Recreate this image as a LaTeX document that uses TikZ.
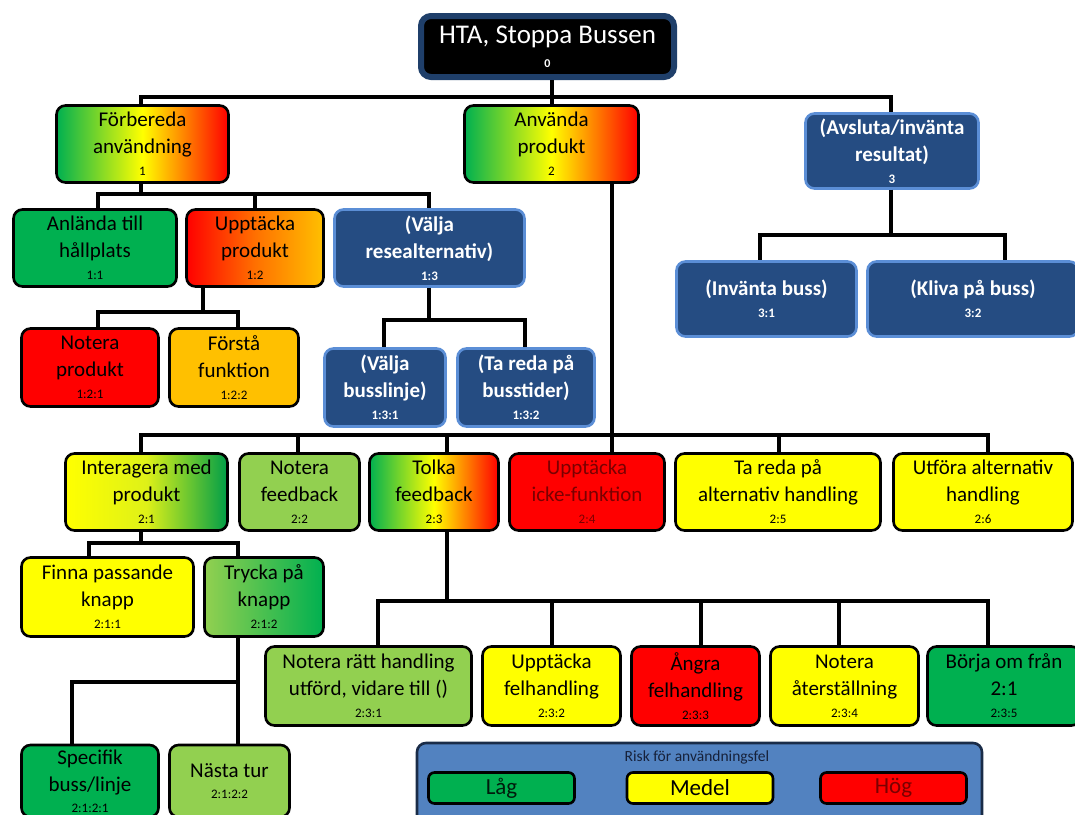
\documentclass[tikz,border=0pt]{standalone}
\usepackage{fontspec}
\setmainfont{Carlito}
\definecolor{gr}{HTML}{00B050}
\definecolor{lgr}{HTML}{92D050}
\definecolor{yel}{HTML}{FFFF00}
\definecolor{rd}{HTML}{FF0000}
\definecolor{org}{HTML}{FFC000}
\definecolor{orgred}{HTML}{FF7000}
\definecolor{bluefill}{HTML}{254C82}
\definecolor{bluebd}{HTML}{5B8ED6}
\definecolor{rootbd}{HTML}{1F3F6A}
\definecolor{legfill}{HTML}{5282C0}
\definecolor{legbd}{HTML}{1A2C48}
\definecolor{dred}{HTML}{7A0000}
\definecolor{navytxt}{HTML}{16213A}
\newcommand\mainfs{\fontsize{21}{27}\selectfont}
\newcommand\numfs{\fontsize{13}{15}\selectfont}
\newcommand\tconn[5]{\draw[conn] (#1.south -| #2,0) -- (#2,#3) -| (#4.north -| #5,0);}
\tikzset{
  conn/.style={line width=4pt, draw=black},
  box/.style={draw=black, line width=2.6pt, rounded corners=9pt, inner sep=0pt,
    align=center, font=\mainfs, text=black},
  bluebox/.style={box, draw=bluebd, fill=bluefill, text=white, font=\mainfs\bfseries},
  gyr/.style={left color=gr, right color=rd, middle color=yel},
  legitem/.style={draw=black, line width=2.6pt, rounded corners=6pt, inner sep=0pt,
    minimum height=31pt, minimum width=146pt, font=\fontsize{23}{26}\selectfont}
}
\begin{document}
\begin{tikzpicture}[x=1pt,y=-1pt]
\useasboundingbox (0,0) rectangle (1075,814);
% root
\node[draw=rootbd, line width=6pt, fill=black, rounded corners=10pt, inner sep=0pt,
  minimum width=253pt, minimum height=61pt, align=center, text=white,
  font=\fontsize{27}{29}\selectfont] (n0) at (547.5,46.5)
  {HTA, Stoppa Bussen\\[-5pt]{\bfseries\fontsize{12}{13}\selectfont 0}};
% level 1
\node[box, gyr, minimum width=172pt, minimum height=77pt] (n1) at (142.5,144)
  {Förbereda\\användning\\[-5pt]{\numfs 1}};
\node[box, gyr, minimum width=174pt, minimum height=77pt] (n2) at (551.5,144)
  {Använda\\produkt\\[-5pt]{\numfs 2}};
\node[bluebox, minimum width=173pt, minimum height=75pt] (n3) at (892,151)
  {(Avsluta/invänta\\resultat)\\[-5pt]{\numfs 3}};
% level 1.x
\node[box, fill=gr, minimum width=163pt, minimum height=77pt] (n11) at (95,248)
  {Anlända till\\hållplats\\[-5pt]{\numfs 1:1}};
\node[box, left color=rd, right color=org, middle color=orgred, minimum width=137pt, minimum height=77pt] (n12) at (255,248)
  {Upptäcka\\produkt\\[-5pt]{\numfs 1:2}};
\node[bluebox, minimum width=190pt, minimum height=77pt] (n13) at (429.5,248)
  {(Välja\\resealternativ)\\[-5pt]{\numfs 1:3}};
\node[box, fill=rd, minimum width=137pt, minimum height=78pt] (n121) at (90,367.5)
  {Notera\\produkt\\[-5pt]{\numfs 1:2:1}};
\node[box, fill=org, minimum width=129pt, minimum height=78pt] (n122) at (234,367.5)
  {Förstå\\funktion\\[-5pt]{\numfs 1:2:2}};
\node[bluebox, minimum width=121pt, minimum height=78pt] (n131) at (385,387.5)
  {(Välja\\busslinje)\\[-5pt]{\numfs 1:3:1}};
\node[bluebox, minimum width=137pt, minimum height=78pt] (n132) at (526,387.5)
  {(Ta reda på\\busstider)\\[-5pt]{\numfs 1:3:2}};
\node[bluebox, minimum width=180pt, minimum height=75pt] (n31) at (766.5,299)
  {(Invänta buss)\\[-5pt]{\numfs 3:1}};
\node[bluebox, minimum width=211pt, minimum height=75pt] (n32) at (973,299)
  {(Kliva på buss)\\[-5pt]{\numfs 3:2}};
% level 2
\node[box, left color=yel, right color=gr!90!black, middle color=yel!70!lgr, minimum width=162pt, minimum height=77pt] (n21) at (146.5,492)
  {Interagera med\\produkt\\[-5pt]{\numfs 2:1}};
\node[box, fill=lgr, minimum width=120pt, minimum height=77pt] (n22) at (299.5,492)
  {Notera\\feedback\\[-5pt]{\numfs 2:2}};
\node[box, gyr, minimum width=129pt, minimum height=77pt] (n23) at (434,492)
  {Tolka\\feedback\\[-5pt]{\numfs 2:3}};
\node[box, fill=rd, text=dred, minimum width=155pt, minimum height=77pt] (n24) at (587,492)
  {Upptäcka\\icke-funktion\\[-5pt]{\numfs 2:4}};
\node[box, fill=yel, minimum width=205pt, minimum height=77pt] (n25) at (778,492)
  {Ta reda på\\alternativ handling\\[-5pt]{\numfs 2:5}};
\node[box, fill=yel, minimum width=179pt, minimum height=77pt] (n26) at (983,492)
  {Utföra alternativ\\handling\\[-5pt]{\numfs 2:6}};
% level 2:1.x
\node[box, fill=yel, minimum width=172pt, minimum height=79pt] (n211) at (107.5,597)
  {Finna passande\\knapp\\[-5pt]{\numfs 2:1:1}};
\node[box, left color=lgr, right color=gr, minimum width=119pt, minimum height=79pt] (n212) at (264,597)
  {Trycka på\\knapp\\[-5pt]{\numfs 2:1:2}};
\node[box, fill=gr, minimum width=137pt, minimum height=72pt] (n2121) at (90,781)
  {Specifik\\buss/linje\\[-6pt]{\numfs 2:1:2:1}};
\node[box, fill=lgr, minimum width=120pt, minimum height=72pt] (n2122) at (229.5,781)
  {Nästa tur\\[-6pt]{\numfs 2:1:2:2}};
% level 2:3.x
\node[box, fill=lgr, minimum width=206pt, minimum height=79pt] (n231) at (368.5,686)
  {Notera rätt handling\\utförd, vidare till ()\\[-5pt]{\numfs 2:3:1}};
\node[box, fill=yel, minimum width=138pt, minimum height=79pt] (n232) at (551.5,686)
  {Upptäcka\\felhandling\\[-5pt]{\numfs 2:3:2}};
\node[box, fill=rd, minimum width=128pt, minimum height=79pt] (n233) at (695.5,686)
  {Ångra\\felhandling\\[-5pt]{\numfs 2:3:3}};
\node[box, fill=yel, minimum width=148pt, minimum height=79pt] (n234) at (844.5,686)
  {Notera\\återställning\\[-5pt]{\numfs 2:3:4}};
\node[box, fill=gr, minimum width=153pt, minimum height=79pt] (n235) at (1004,686)
  {Börja om från\\2:1\\[-5pt]{\numfs 2:3:5}};
% legend
\node[draw=legbd, fill=legfill, line width=2.6pt, rounded corners=9pt, minimum width=565pt, minimum height=81pt] (leg) at (699.5,783.5) {};
\node[text=navytxt, font=\fontsize{15.5}{17}\selectfont, inner sep=0pt] (legt) at (697,757) {Risk för användningsfel};
\node[legitem, fill=gr, text=black!85!gr] (lg1) at (501.5,788) {Låg};
\node[legitem, fill=yel] (lg2) at (700,788) {Medel};
\node[legitem, fill=rd, text=dred] (lg3) at (893.5,788) {Hög};
% connectors
\tconn{n0}{552}{97}{n1}{141}
\tconn{n0}{552}{97}{n2}{552}
\tconn{n0}{552}{97}{n3}{891}
\tconn{n1}{141}{194}{n11}{98}
\tconn{n1}{141}{194}{n12}{255}
\tconn{n1}{141}{194}{n13}{429}
\tconn{n12}{203}{312}{n121}{98}
\tconn{n12}{203}{312}{n122}{238}
\tconn{n13}{429}{320}{n131}{384}
\tconn{n13}{429}{320}{n132}{525}
\tconn{n3}{891}{235}{n31}{760}
\tconn{n3}{891}{235}{n32}{1005}
\tconn{n2}{612}{435}{n21}{141}
\tconn{n2}{612}{435}{n22}{298}
\tconn{n2}{612}{435}{n23}{447}
\tconn{n2}{612}{435}{n24}{612}
\tconn{n2}{612}{435}{n25}{779}
\tconn{n2}{612}{435}{n26}{988}
\tconn{n21}{141}{543}{n211}{89}
\tconn{n21}{141}{543}{n212}{238}
\tconn{n212}{238}{682}{n2121}{72}
\tconn{n212}{238}{682}{n2122}{238}
\tconn{n23}{447}{601}{n231}{378}
\tconn{n23}{447}{601}{n232}{552}
\tconn{n23}{447}{601}{n233}{701}
\tconn{n23}{447}{601}{n234}{839}
\tconn{n23}{447}{601}{n235}{988}
\end{tikzpicture}
\end{document}
